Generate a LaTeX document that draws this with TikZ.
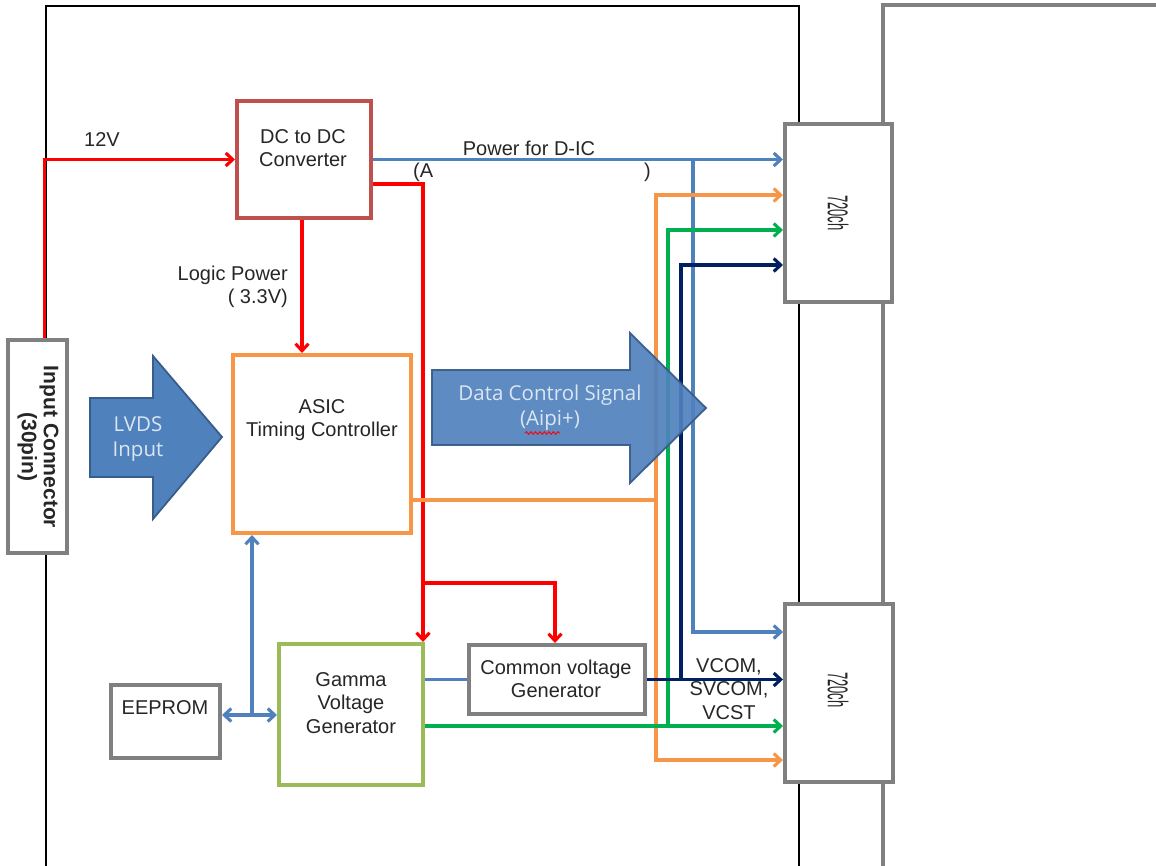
\documentclass[tikz,border=0pt]{standalone}
\usepackage{fontspec}
\setmainfont{Liberation Sans}
\newfontfamily\arrowfont{Open Sans}
\usetikzlibrary{arrows.meta,decorations.pathmorphing}
\definecolor{redl}{HTML}{FF0000}
\definecolor{dcred}{HTML}{C0504D}
\definecolor{orangel}{HTML}{F79646}
\definecolor{greenl}{HTML}{00B050}
\definecolor{gammag}{HTML}{9BBB59}
\definecolor{navyl}{HTML}{002060}
\definecolor{bluel}{HTML}{4F81BD}
\definecolor{grayb}{HTML}{808080}
\definecolor{arrborder}{HTML}{385D8A}
\definecolor{arrtext}{HTML}{DCE6F2}
\begin{document}
\begin{tikzpicture}[x=1pt,y=-1pt,
  box/.style={draw, line width=4pt, fill=white, inner sep=0pt},
  lbl/.style={font=\fontsize{20}{23.5}\selectfont, align=center, inner sep=0pt, text=black!85},
  wire/.style={line width=3.1pt},
  arr/.style={-{Straight Barb[length=7pt,width=13pt]}},
  barr/.style={{Straight Barb[length=7pt,width=13pt]}-{Straight Barb[length=7pt,width=13pt]}},
  bigarrow/.style={fill=bluel, draw=arrborder, line width=1.8pt, line join=miter},
  arrlbl/.style={font=\arrowfont\fontsize{20.5}{25}\selectfont, text=arrtext, align=center, inner sep=0pt}
]
\useasboundingbox (0,0) rectangle (1156,865);
% frames
\draw[line width=1.4pt, black] (46,870) -- (46,6) -- (799,6) -- (799,870);
\draw[line width=4pt, grayb] (883,870) -- (883,5) -- (1160,5);

% boxes
\node[box, draw=dcred, minimum width=134pt, minimum height=117pt] (dc) at (304,159.5) {};
\node[lbl] (dcT) at (303,148) {DC to DC\\Converter};
\node[box, draw=orangel, minimum width=178pt, minimum height=178pt] (asic) at (322,444) {};
\node[lbl] (asicT) at (322,420) {ASIC\\Timing Controller};
\node[box, draw=gammag, minimum width=144pt, minimum height=141pt] (gam) at (351,714.5) {};
\node[lbl] (gamT) at (351,703) {Gamma\\Voltage\\Generator};
\node[box, draw=grayb, minimum width=176pt, minimum height=69pt] (cv) at (557,679.5) {};
\node[lbl] (cvT) at (556,679) {Common voltage\\Generator};
\node[box, draw=grayb, minimum width=109pt, minimum height=73pt] (ee) at (165.5,721.5) {};
\node[lbl] (eeT) at (165,708) {EEPROM};
\node[box, draw=grayb, minimum width=59pt, minimum height=213pt] (inp) at (37.5,446.5) {};
\node[lbl, font=\bfseries\fontsize{21}{22}\selectfont, rotate=-90] (inpT) at (38,447) {Input Connector\\(30pin)};
\node[box, draw=grayb, minimum width=107pt, minimum height=178pt] (ch1) at (838.5,213) {};
\node[inner sep=0pt, rotate=-90, text=black!85] (ch1T) at (838,213) {\scalebox{1}[2.2]{\fontsize{13}{13}\selectfont 720ch}};
\node[box, draw=grayb, minimum width=108pt, minimum height=178pt] (ch2) at (839,693) {};
\node[inner sep=0pt, rotate=-90, text=black!85] (ch2T) at (838,690) {\scalebox{1}[2.2]{\fontsize{13}{13}\selectfont 720ch}};

% LVDS arrow
\draw[bigarrow] (90,398) -- (153,398) -- (153,356) -- (222,437) -- (153,519) -- (153,477) -- (90,477) -- cycle;
\node[arrlbl] (lvdsT) at (138,439) {LVDS\\Input};

% coordinates
\coordinate (br) at (421,583);
\coordinate (oA) at (656,500);
\coordinate (oTop) at (656,195);
\coordinate (oBot) at (656,760);
\coordinate (gA) at (668,726);
\coordinate (gTop) at (668,230);
\coordinate (nA) at (681,679.5);
\coordinate (nTop) at (681,265);
\coordinate (bA) at (693,159.5);
\coordinate (bBot) at (693,632);
\coordinate (eA) at (252,715);

% red wires
\draw[wire, redl, arr] ([xshift=7pt]inp.north) |- (dc.west);
\draw[wire, redl, arr] ([yshift=-24.5pt]dc.east) -| ([xshift=-2pt]gam.north east);
\draw[wire, redl, arr] (br) -| ([xshift=-2pt]cv.north);
\draw[wire, redl, arr] ([xshift=-2pt]dc.south) -- ([xshift=-2pt]dc.south |- asic.north);

% blue power
\draw[wire, bluel, arr] (dc.east) -- (ch1.west |- dc.east);
\draw[wire, bluel, arr] (bA) -- (bBot) -- (ch2.west |- bBot);

% orange
\draw[wire, orangel] (asic.east |- oA) -- (oA);
\draw[wire, orangel, arr] (oA) -- (oTop) -- (ch1.west |- oTop);
\draw[wire, orangel, arr] (oA) -- (oBot) -- (ch2.west |- oBot);

% green
\draw[wire, greenl, arr] (gam.east |- gA) -- (ch2.west |- gA);
\draw[wire, greenl, arr] (gA) -- (gTop) -- (ch1.west |- gTop);

% navy
\draw[wire, navyl, arr] (cv.east) -- (ch2.west |- cv.east);
\draw[wire, navyl, arr] (nA) -- (nTop) -- (ch1.west |- nTop);

% blue gamma to cv
\draw[wire, bluel] (gam.east |- cv.west) -- (cv.west);
% eeprom
\draw[wire, bluel, barr] (ee.east |- eA) -- (gam.west |- eA);
\draw[wire, bluel, arr] (eA) -- (eA |- asic.south);

% data arrow
\draw[bigarrow, fill opacity=0.92, draw opacity=0.95] (432,370) -- (630,370) -- (630,333) -- (706,408) -- (630,483) -- (630,445) -- (432,445) -- cycle;
\node[arrlbl] (dataT) at (550,408) {Data Control Signal\\(Aipi+)};
\draw[redl, line width=0.9pt, decorate, decoration={snake, amplitude=1.3pt, segment length=4.5pt}] (525,433) -- (560,433);

% labels
\node[lbl] (v12) at (102,140) {12V};
\node[lbl] (pdic) at (529,148) {Power for D-IC};
\node[lbl, anchor=west] (pA) at (413,172) {(A};
\node[lbl, anchor=west] (pB) at (644,172) {)};
\node[lbl, align=right, anchor=east] (lp) at (288,287) {Logic Power\\( 3.3V)};
\node[lbl] (vcom) at (729,689) {VCOM,\\SVCOM,\\VCST};
\end{tikzpicture}
\end{document}
